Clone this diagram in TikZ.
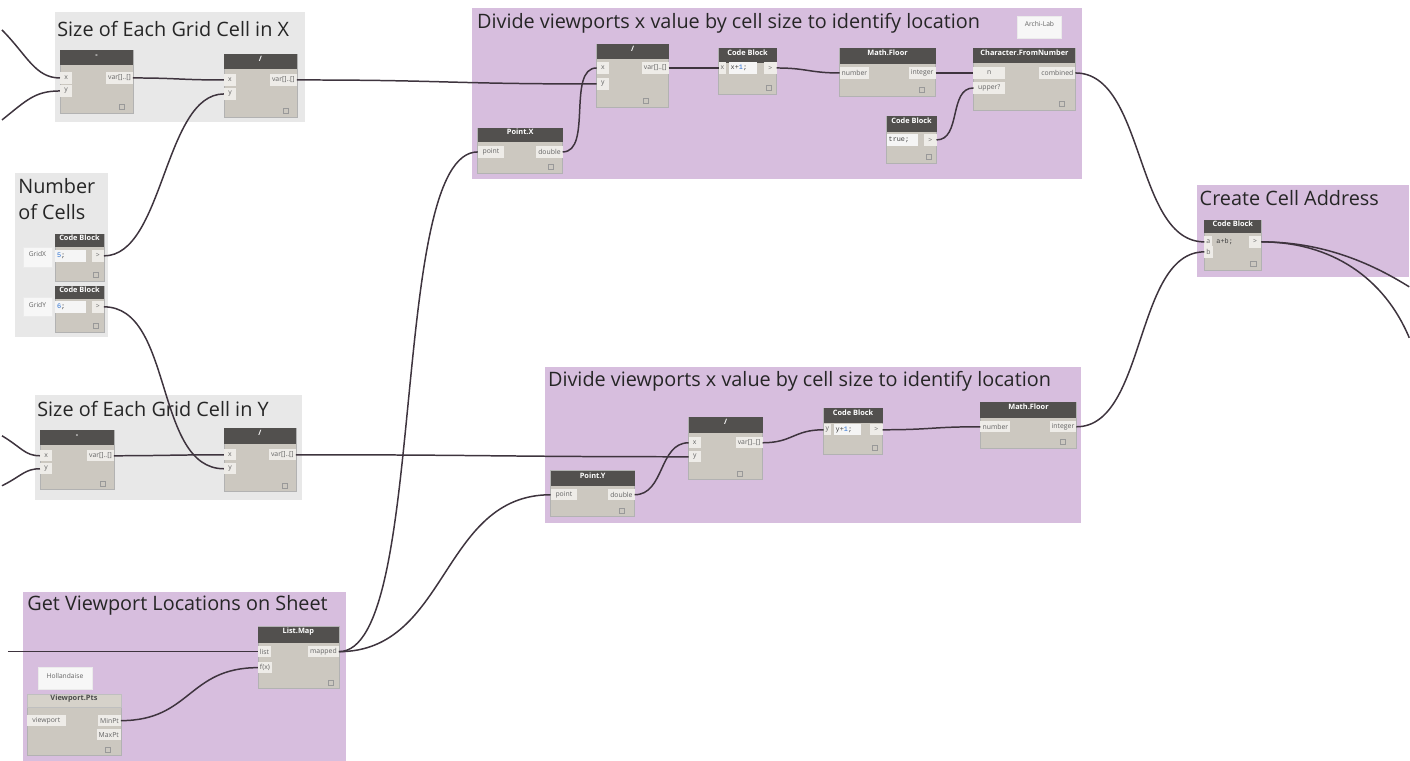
\documentclass[tikz,border=0pt]{standalone}
\usepackage{fontspec}
\setmainfont{Open Sans}
\setmonofont{Liberation Mono}
\usetikzlibrary{fit}

\definecolor{grpgray}{RGB}{232,232,232}
\definecolor{grppurple}{RGB}{215,190,222}
\definecolor{headgray}{RGB}{82,80,78}
\definecolor{headlight}{RGB}{214,210,202}
\definecolor{bodygray}{RGB}{204,200,192}
\definecolor{portbg}{RGB}{238,236,232}
\definecolor{porttxt}{RGB}{100,100,100}
\definecolor{wirecol}{RGB}{62,52,62}
\definecolor{codeblue}{RGB}{40,110,210}

\begin{document}
\begin{tikzpicture}
	[x=0.02cm,y=-0.02cm,
		group/.style={inner sep=0pt,outer sep=0pt},
		grouptitle/.style={anchor=west,inner sep=0pt,text=black!85,
		font=\fontsize{11.3}{14.7}\selectfont},
		dbody/.style={fill=bodygray,draw=black!30,line width=0.3pt,inner sep=0pt,outer sep=0pt},
		dhead/.style={fill=headgray,inner sep=0pt,outer sep=0pt,text=white,
		font=\fontsize{4.2}{5}\selectfont\bfseries},
		inport/.style={anchor=west,fill=portbg,inner xsep=1.2pt,inner ysep=0pt,outer sep=0pt,
		minimum width=7pt,minimum height=6.5pt,text=porttxt,font=\fontsize{3.9}{4}\selectfont},
		outport/.style={inport,anchor=east},
		code/.style={inport,fill=white!96!black,text=black!75,align=left,
		font=\fontsize{3.9}{4}\ttfamily},
		note/.style={fill=white!97!black,draw=black!8,inner sep=0pt,text=porttxt,
		font=\fontsize{3.8}{4}\selectfont},
		lacebox/.style={draw=black!40,line width=0.3pt,minimum size=3pt,inner sep=0pt}]
	\tikzstyle{wire}=[draw=wirecol,line width=0.85pt]

	% groups
	\node[group,fill=grpgray,fit={(55,12) (305,122)}] (gX) {};
	\node[grouptitle] (gX-t) at (57,29) {Size of Each Grid Cell in X};
	\node[group,fill=grpgray,fit={(15,173) (108,337)}] (gN) {};
	\node[grouptitle,align=left] (gN-t) at (18,199) {Number\\of Cells};
	\node[group,fill=grpgray,fit={(35,395) (302,500)}] (gY) {};
	\node[grouptitle] (gY-t) at (37,409) {Size of Each Grid Cell in Y};
	\node[group,fill=grppurple,fit={(472,8) (1083,179)}] (gTop) {};
	\node[grouptitle] (gTop-t) at (477,23) {Divide viewports x value by cell size to identify location};
	\node[group,fill=grppurple,fit={(545,367) (1082,523)}] (gLow) {};
	\node[grouptitle] (gLow-t) at (548,381) {Divide viewports x value by cell size to identify location};
	\node[group,fill=grppurple,fit={(1198,185) (1410,277)}] (gAddr) {};
	\node[grouptitle] (gAddr-t) at (1200,198) {Create Cell Address};
	\node[group,fill=grppurple,fit={(23,592) (346,761)}] (gView) {};
	\node[grouptitle] (gView-t) at (27,606) {Get Viewport Locations on Sheet};

	% size in x
	\node[dbody,fit={(60,50) (133,113)}] (minusX) {};
	\node[dhead,fit={(60,50) (133,65)}] (minusX-h) {-};
	\node[inport] (minusX-x) at (60,78) {x};
	\node[inport] (minusX-y) at (60,91) {y};
	\node[outport] (minusX-o) at (133,78) {var[]..[]};
	\node[lacebox] (minusX-m) at (122,107) {};
	\node[dbody,fit={(224,54) (297,117)}] (divX) {};
	\node[dhead,fit={(224,54) (297,69)}] (divX-h) {/};
	\node[inport] (divX-x) at (224,80) {x};
	\node[inport] (divX-y) at (224,94) {y};
	\node[outport] (divX-o) at (297,80) {var[]..[]};
	\node[lacebox] (divX-m) at (286,111) {};

	% number of cells
	\node[note,fit={(23,247) (52,267)}] (gridX) {GridX};
	\node[dbody,fit={(55,234) (104,281)}] (cbGX) {};
	\node[dhead,fit={(55,234) (104,247)}] (cbGX-h) {Code Block};
	\node[code,text width=15.5pt] (cbGX-c) at (55,256) {\textcolor{codeblue}{5};};
	\node[outport] (cbGX-o) at (104,256) {>};
	\node[lacebox] (cbGX-m) at (96,275) {};
	\node[note,fit={(23,298) (52,317)}] (gridY) {GridY};
	\node[dbody,fit={(55,286) (104,332)}] (cbGY) {};
	\node[dhead,fit={(55,286) (104,299)}] (cbGY-h) {Code Block};
	\node[code,text width=15.5pt] (cbGY-c) at (55,307) {\textcolor{codeblue}{6};};
	\node[outport] (cbGY-o) at (104,307) {>};
	\node[lacebox] (cbGY-m) at (96,326) {};

	% size in y
	\node[dbody,fit={(40,430) (114,490)}] (minusY) {};
	\node[dhead,fit={(40,430) (114,445)}] (minusY-h) {-};
	\node[inport] (minusY-x) at (40,456) {x};
	\node[inport] (minusY-y) at (40,469) {y};
	\node[outport] (minusY-o) at (114,456) {var[]..[]};
	\node[lacebox] (minusY-m) at (103,484) {};
	\node[dbody,fit={(224,428) (296,492)}] (divY) {};
	\node[dhead,fit={(224,428) (296,444)}] (divY-h) {/};
	\node[inport] (divY-x) at (224,455) {x};
	\node[inport] (divY-y) at (224,469) {y};
	\node[outport] (divY-o) at (296,455) {var[]..[]};
	\node[lacebox] (divY-m) at (285,486) {};

	% top row
	\node[note,fit={(1018,16) (1062,38)}] (archi) {Archi-Lab};
	\node[dbody,fit={(478,128) (563,173)}] (pointX) {};
	\node[dhead,fit={(478,128) (563,142)}] (pointX-h) {Point.X};
	\node[inport,minimum width=15pt] (pointX-p) at (478,152) {point};
	\node[outport] (pointX-o) at (563,152) {double};
	\node[lacebox] (pointX-m) at (551,167) {};
	\node[dbody,fit={(597,44) (669,107)}] (divT) {};
	\node[dhead,fit={(597,44) (669,59)}] (divT-h) {/};
	\node[inport] (divT-x) at (597,68) {x};
	\node[inport] (divT-y) at (597,84) {y};
	\node[outport] (divT-o) at (669,68) {var[]..[]};
	\node[lacebox] (divT-m) at (646,101) {};
	\node[dbody,fit={(719,48) (777,94)}] (cbT) {};
	\node[dhead,fit={(719,48) (777,63)}] (cbT-h) {Code Block};
	\node[inport,minimum width=4pt] (cbT-x) at (719,68) {x};
	\node[code,text width=13.5pt] (cbT-c) at (729,68) {x+\textcolor{codeblue}{1};};
	\node[outport] (cbT-o) at (777,68) {>};
	\node[lacebox] (cbT-m) at (769,88) {};
	\node[dbody,fit={(840,48) (936,96)}] (floorT) {};
	\node[dhead,fit={(840,48) (936,64)}] (floorT-h) {Math.Floor};
	\node[inport] (floorT-n) at (840,73) {number};
	\node[outport] (floorT-o) at (936,73) {integer};
	\node[lacebox] (floorT-m) at (922,90) {};
	\node[dbody,fit={(974,48) (1076,110)}] (charT) {};
	\node[dhead,fit={(974,48) (1076,63)}] (charT-h) {Character.FromNumber};
	\node[inport,minimum width=18pt] (charT-n) at (974,73) {n};
	\node[inport,minimum width=18pt] (charT-u) at (974,88) {upper?};
	\node[outport] (charT-o) at (1076,73) {combined};
	\node[lacebox] (charT-m) at (1062,104) {};
	\node[dbody,fit={(887,116) (937,163)}] (cbTrue) {};
	\node[dhead,fit={(887,116) (937,132)}] (cbTrue-h) {Code Block};
	\node[code,text width=15.5pt] (cbTrue-c) at (887,140) {true;};
	\node[outport] (cbTrue-o) at (937,140) {>};
	\node[lacebox] (cbTrue-m) at (929,157) {};

	% lower row
	\node[dbody,fit={(551,471) (635,517)}] (pointY) {};
	\node[dhead,fit={(551,471) (635,486)}] (pointY-h) {Point.Y};
	\node[inport,minimum width=15pt] (pointY-p) at (551,495) {point};
	\node[outport] (pointY-o) at (635,495) {double};
	\node[lacebox] (pointY-m) at (622,511) {};
	\node[dbody,fit={(689,417) (763,480)}] (divL) {};
	\node[dhead,fit={(689,417) (763,433)}] (divL-h) {/};
	\node[inport] (divL-x) at (689,443) {x};
	\node[inport] (divL-y) at (689,457) {y};
	\node[outport] (divL-o) at (763,443) {var[]..[]};
	\node[lacebox] (divL-m) at (740,474) {};
	\node[dbody,fit={(824,408) (883,454)}] (cbL) {};
	\node[dhead,fit={(824,408) (883,423)}] (cbL-h) {Code Block};
	\node[inport,minimum width=4pt] (cbL-y) at (824,430) {y};
	\node[code,text width=13.5pt] (cbL-c) at (834,430) {y+\textcolor{codeblue}{1};};
	\node[outport] (cbL-o) at (883,430) {>};
	\node[lacebox] (cbL-m) at (875,448) {};
	\node[dbody,fit={(981,402) (1077,448)}] (floorL) {};
	\node[dhead,fit={(981,402) (1077,418)}] (floorL-h) {Math.Floor};
	\node[inport] (floorL-n) at (981,427) {number};
	\node[outport] (floorL-o) at (1077,427) {integer};
	\node[lacebox] (floorL-m) at (1063,442) {};

	% cell address
	\node[dbody,fit={(1205,220) (1262,270)}] (cbAddr) {};
	\node[dhead,fit={(1205,220) (1262,233)}] (cbAddr-h) {Code Block};
	\node[inport,minimum width=4pt] (cbAddr-a) at (1205,242) {a};
	\node[inport,minimum width=4pt] (cbAddr-b) at (1205,252) {b};
	\node[code,text width=13.5pt,fill=bodygray] (cbAddr-c) at (1215,242) {a+b;};
	\node[outport] (cbAddr-o) at (1262,242) {>};
	\node[lacebox] (cbAddr-m) at (1254,264) {};

	% viewport locations
	\node[note,fit={(38,668) (92,690)}] (holl) {Hollandaise};
	\node[dbody,fit={(27,695) (121,756)}] (vpPts) {};
	\node[dhead,fill=headlight,text=black!70,draw=black!25,line width=0.3pt,
		fit={(27,695) (121,708)}] (vpPts-h) {Viewport.Pts};
	\node[inport,minimum width=22pt] (vpPts-v) at (27,721) {viewport};
	\node[outport] (vpPts-min) at (121,721) {MinPt};
	\node[outport] (vpPts-max) at (121,735) {MaxPt};
	\node[lacebox] (vpPts-m) at (108,750) {};
	\node[dbody,fit={(258,627) (339,689)}] (listMap) {};
	\node[dhead,fit={(258,627) (339,643)}] (listMap-h) {List.Map};
	\node[inport] (listMap-l) at (258,652) {list};
	\node[inport] (listMap-f) at (258,668) {f(x)};
	\node[outport] (listMap-o) at (339,652) {mapped};
	\node[lacebox] (listMap-m) at (331,683) {};

	% free ends
	\coordinate (inXa) at (2,30);
	\coordinate (inXb) at (2,120);
	\coordinate (inYa) at (2,436);
	\coordinate (inYb) at (2,486);
	\coordinate (inL) at (8,652);
	\coordinate (outA) at (1410,287);
	\coordinate (outB) at (1410,338);

	% wires
	\draw[wire] (inXa) .. controls +(25,25) and +(-25,0) .. (minusX-x.west);
	\draw[wire] (inXb) .. controls +(25,-20) and +(-25,0) .. (minusX-y.west);
	\draw[wire] (inYa) .. controls +(20,12) and +(-15,0) .. (minusY-x.west);
	\draw[wire] (inYb) .. controls +(20,-10) and +(-15,0) .. (minusY-y.west);
	\draw[wire] (inL) -- (listMap-l.west);
	\draw[wire] (minusX-o.east) .. controls +(45,0) and +(-45,0) .. (divX-x.west);
	\draw[wire] (minusY-o.east) .. controls +(45,0) and +(-45,0) .. (divY-x.west);
	\draw[wire] (cbGX-o.east) .. controls +(60,0) and +(-60,0) .. (divX-y.west);
	\draw[wire] (cbGY-o.east) .. controls +(70,0) and +(-70,0) .. (divY-y.west);
	\draw[wire] (divX-o.east) .. controls +(150,0) and +(-150,0) .. (divT-y.west);
	\draw[wire] (pointX-o.east) .. controls +(30,0) and +(-30,0) .. (divT-x.west);
	\draw[wire] (divT-o.east) .. controls +(25,0) and +(-25,0) .. (cbT-x.west);
	\draw[wire] (cbT-o.east) .. controls +(30,0) and +(-30,0) .. (floorT-n.west);
	\draw[wire] (floorT-o.east) .. controls +(18,0) and +(-18,0) .. (charT-n.west);
	\draw[wire] (cbTrue-o.east) .. controls +(25,0) and +(-25,0) .. (charT-u.west);
	\draw[wire] (charT-o.east) .. controls +(70,0) and +(-70,0) .. (cbAddr-a.west);
	\draw[wire] (divY-o.east) .. controls +(190,0) and +(-190,0) .. (divL-y.west);
	\draw[wire] (pointY-o.east) .. controls +(30,0) and +(-30,0) .. (divL-x.west);
	\draw[wire] (divL-o.east) .. controls +(30,0) and +(-30,0) .. (cbL-y.west);
	\draw[wire] (cbL-o.east) .. controls +(50,0) and +(-50,0) .. (floorL-n.west);
	\draw[wire] (floorL-o.east) .. controls +(70,0) and +(-70,0) .. (cbAddr-b.west);
	\draw[wire] (listMap-o.east) .. controls +(90,0) and +(-90,0) .. (pointX-p.west);
	\draw[wire] (listMap-o.east) .. controls +(110,0) and +(-110,0) .. (pointY-p.west);
	\draw[wire] (vpPts-min.east) .. controls +(70,0) and +(-70,0) .. (listMap-f.west);
	\draw[wire] (cbAddr-o.east) .. controls +(60,0) and +(-40,-25) .. (outA);
	\draw[wire] (cbAddr-o.east) .. controls +(70,0) and +(-25,-60) .. (outB);
%	\draw[wire] (cbAddr-o.east) -- (outA);

	\useasboundingbox (0,0) rectangle (1410,761);
\end{tikzpicture}
\end{document}
